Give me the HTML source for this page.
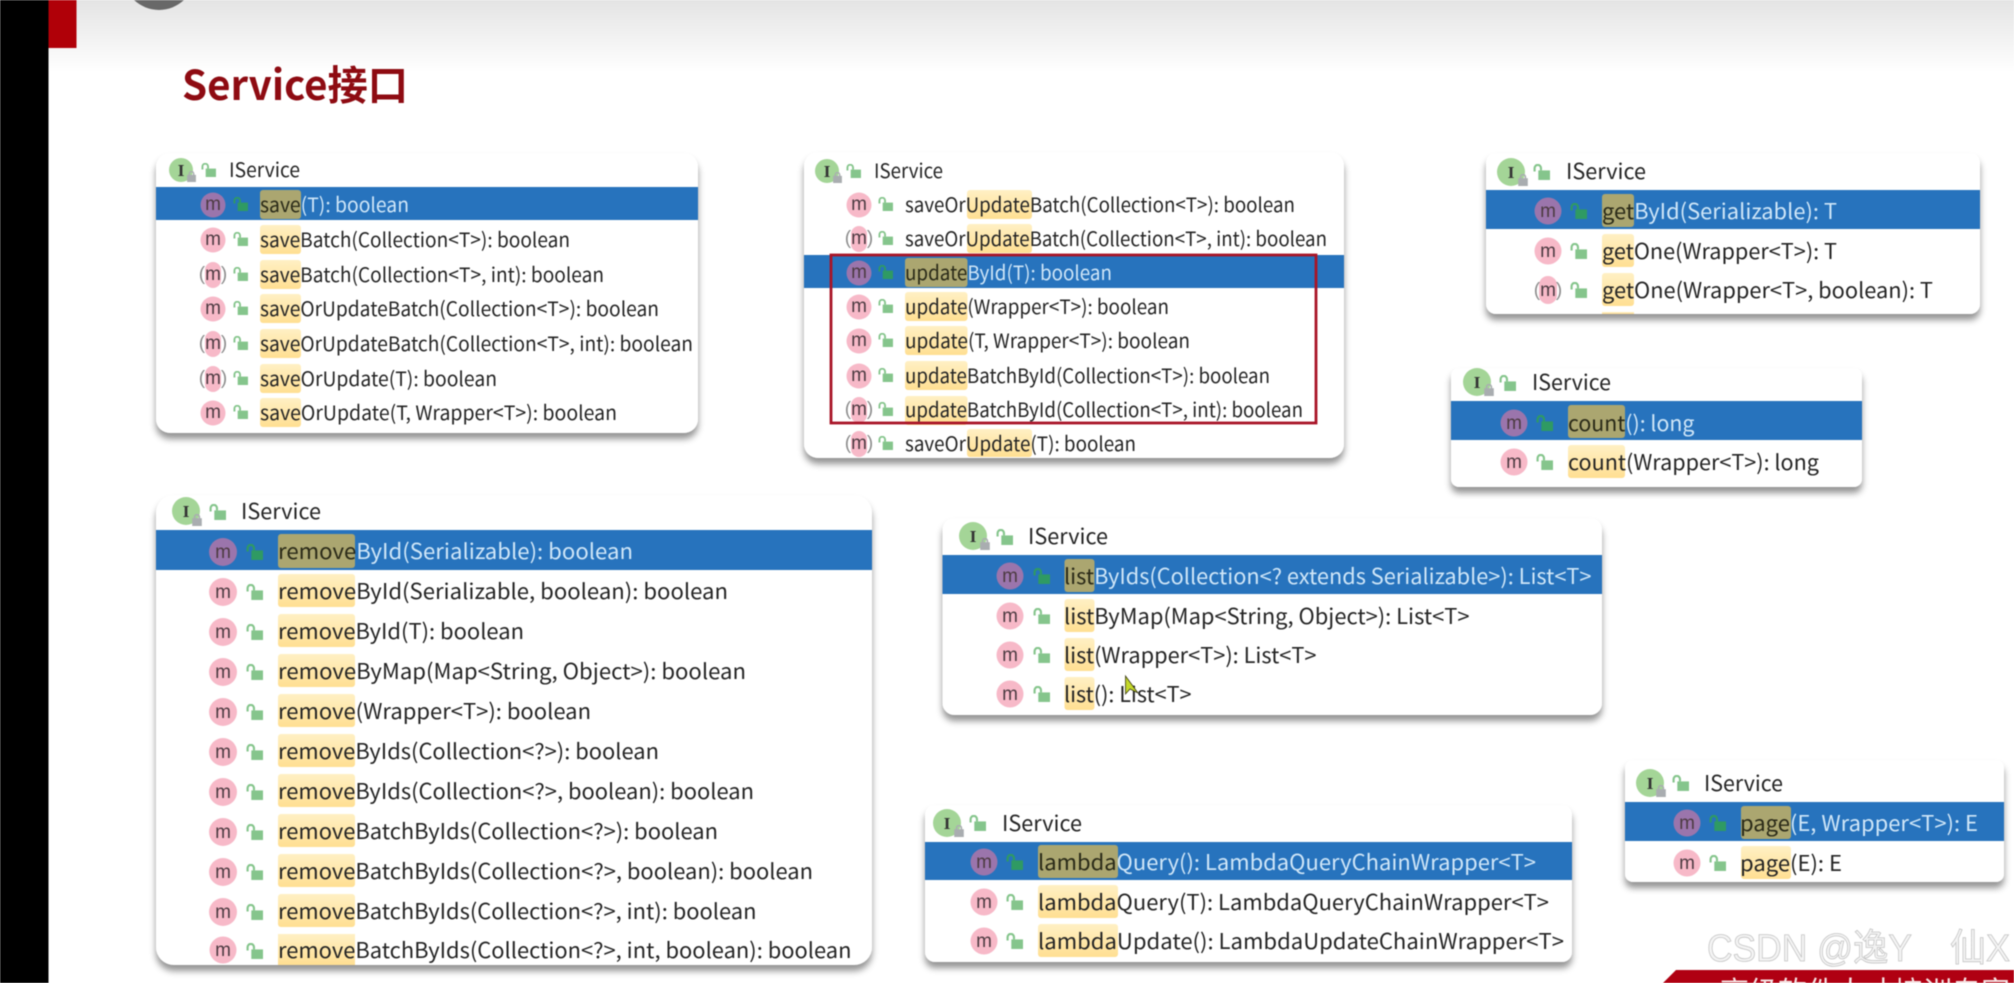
<!DOCTYPE html>
<html><head><meta charset="utf-8"><title>Service接口</title>
<style>
html,body{margin:0;padding:0;background:#fff;width:2014px;height:983px;overflow:hidden}
svg{display:block;filter:blur(.55px)}
text{font-family:"Noto Sans CJK SC","Liberation Sans",sans-serif;fill:#242424}
.a{font-size:20px}.b{font-size:21.5px}
.s{fill:#cfe6f8}
.m{font-family:"Liberation Sans",sans-serif;font-size:19px;text-anchor:middle;fill:#4d3b42}
.i{font-family:"Liberation Serif",serif;font-size:17px;font-weight:bold;text-anchor:middle;fill:#333}
.g{fill:#8c8c8c}
.p{fill:#f7b9c8}.q{fill:#9b75ac}.o{fill:#a4d597}
.w{fill:#2773bd}.h{fill:url(#y)}.j{fill:#aba670}
</style></head><body>
<svg width="2014" height="983" viewBox="0 0 2014 983" xmlns="http://www.w3.org/2000/svg">
<defs>
<linearGradient id="bg" x1="0" y1="0" x2="0" y2="1"><stop offset="0" stop-color="#e4e4e4"/><stop offset="1" stop-color="#fff"/></linearGradient>
<linearGradient id="y" x1="0" y1="0" x2="0" y2="1"><stop offset="0" stop-color="#fff0c4"/><stop offset="1" stop-color="#ffdf92"/></linearGradient>
<filter id="sh" x="-5%" y="-5%" width="110%" height="115%"><feDropShadow dx="0" dy="6" stdDeviation="3.5" flood-color="#000" flood-opacity=".42"/></filter>
<symbol id="k" viewBox="0 0 16 15"><rect x="5" y="6" width="11" height="9" fill="#85c58c"/><path d="M1.5 7V3.8a3 3 0 0 1 6 0V6" fill="none" stroke="#85c58c" stroke-width="2"/></symbol>
<symbol id="d" viewBox="0 0 16 15"><rect x="5" y="6" width="11" height="9" fill="#2f9a63"/><path d="M1.5 7V3.8a3 3 0 0 1 6 0V6" fill="none" stroke="#2f9a63" stroke-width="2"/></symbol>
<symbol id="l" viewBox="0 0 8 10"><rect x="0" y="3.5" width="8" height="6.5" fill="#a9adb0"/><path d="M2 4V2.5a2 2 0 0 1 4 0V4" fill="none" stroke="#a9adb0" stroke-width="1.3"/></symbol>
</defs>

<rect width="2014" height="983" fill="#fff"/>
<rect x="48" y="0" width="1966" height="72" fill="url(#bg)"/>
<circle cx="159" cy="-26" r="36" fill="#686868"/>
<rect x="0" y="0" width="48.5" height="983" fill="#000"/>
<rect x="48.5" y="0" width="28" height="48" fill="#b00008"/>
<text x="182" y="100" font-size="41" font-weight="600" style="fill:#8e0b12" textLength="226" lengthAdjust="spacingAndGlyphs">Service接口</text>

<!-- Panel 1 -->
<rect x="156" y="153" width="542" height="280" rx="14" fill="#fff" filter="url(#sh)"/>
<circle cx="181" cy="170" r="12" class="o"/><text x="181" y="176" class="i">I</text><use href="#l" x="187" y="171" width="9" height="11"/>
<use href="#k" x="201" y="163" width="15" height="14"/><text x="229" y="177" class="a" textLength="71" lengthAdjust="spacingAndGlyphs">IService</text>
<rect x="156" y="187" width="542" height="33" class="w"/>
<circle cx="213" cy="205" r="12.500" class="q"/><text x="213" y="210" class="m">m</text><use href="#d" x="233" y="197" width="15" height="14"/><rect x="260" y="190" width="41" height="29" rx="3" class="j"/>
<text x="260" y="212" class="a s" textLength="149" lengthAdjust="spacingAndGlyphs"><tspan style="fill:#2a2a18">save</tspan>(T): boolean</text>
<circle cx="213" cy="240" r="12.500" class="p"/><text x="213" y="245" class="m">m</text><use href="#k" x="233" y="232" width="15" height="14"/><rect x="260" y="225" width="41" height="29" rx="3" class="h"/>
<text x="260" y="247" class="a" textLength="310" lengthAdjust="spacingAndGlyphs">saveBatch(Collection&lt;T&gt;): boolean</text>
<rect x="205" y="262" width="16" height="26" rx="8" class="p"/><text x="213" y="280" class="m"><tspan class="g">(</tspan>m<tspan class="g">)</tspan></text><use href="#k" x="233" y="267" width="15" height="14"/><rect x="260" y="260" width="41" height="29" rx="3" class="h"/>
<text x="260" y="282" class="a" textLength="344" lengthAdjust="spacingAndGlyphs">saveBatch(Collection&lt;T&gt;, int): boolean</text>
<circle cx="213" cy="309" r="12.500" class="p"/><text x="213" y="314" class="m">m</text><use href="#k" x="233" y="301" width="15" height="14"/><rect x="260" y="294" width="41" height="29" rx="3" class="h"/>
<text x="260" y="316" class="a" textLength="399" lengthAdjust="spacingAndGlyphs">saveOrUpdateBatch(Collection&lt;T&gt;): boolean</text>
<rect x="205" y="331" width="16" height="26" rx="8" class="p"/><text x="213" y="349" class="m"><tspan class="g">(</tspan>m<tspan class="g">)</tspan></text><use href="#k" x="233" y="336" width="15" height="14"/><rect x="260" y="329" width="41" height="29" rx="3" class="h"/>
<text x="260" y="351" class="a" textLength="433" lengthAdjust="spacingAndGlyphs">saveOrUpdateBatch(Collection&lt;T&gt;, int): boolean</text>
<rect x="205" y="366" width="16" height="26" rx="8" class="p"/><text x="213" y="384" class="m"><tspan class="g">(</tspan>m<tspan class="g">)</tspan></text><use href="#k" x="233" y="371" width="15" height="14"/><rect x="260" y="364" width="41" height="29" rx="3" class="h"/>
<text x="260" y="386" class="a" textLength="237" lengthAdjust="spacingAndGlyphs">saveOrUpdate(T): boolean</text>
<circle cx="213" cy="413" r="12.500" class="p"/><text x="213" y="418" class="m">m</text><use href="#k" x="233" y="405" width="15" height="14"/><rect x="260" y="398" width="41" height="29" rx="3" class="h"/>
<text x="260" y="420" class="a" textLength="357" lengthAdjust="spacingAndGlyphs">saveOrUpdate(T, Wrapper&lt;T&gt;): boolean</text>

<!-- Panel 2 -->
<rect x="804" y="152" width="540" height="306" rx="14" fill="#fff" filter="url(#sh)"/>
<circle cx="827" cy="171" r="12" class="o"/><text x="827" y="177" class="i">I</text><use href="#l" x="833" y="172" width="9" height="11"/>
<use href="#k" x="846" y="164" width="15" height="14"/><text x="874" y="178" class="a" textLength="69" lengthAdjust="spacingAndGlyphs">IService</text>
<circle cx="859" cy="205" r="12.500" class="p"/><text x="859" y="210" class="m">m</text><use href="#k" x="878" y="197" width="15" height="14"/><rect x="967" y="190" width="65" height="29" rx="3" class="h"/>
<text x="905" y="212" class="a" textLength="390" lengthAdjust="spacingAndGlyphs">saveOrUpdateBatch(Collection&lt;T&gt;): boolean</text>
<rect x="851" y="226" width="16" height="26" rx="8" class="p"/><text x="859" y="244" class="m"><tspan class="g">(</tspan>m<tspan class="g">)</tspan></text><use href="#k" x="878" y="231" width="15" height="14"/><rect x="967" y="224" width="65" height="29" rx="3" class="h"/>
<text x="905" y="246" class="a" textLength="422" lengthAdjust="spacingAndGlyphs">saveOrUpdateBatch(Collection&lt;T&gt;, int): boolean</text>
<rect x="804" y="255" width="540" height="33" class="w"/>
<circle cx="859" cy="273" r="12.500" class="q"/><text x="859" y="278" class="m">m</text><use href="#d" x="878" y="265" width="15" height="14"/><rect x="905" y="258" width="62.500" height="29" rx="3" class="j"/>
<text x="905" y="280" class="a s" textLength="207" lengthAdjust="spacingAndGlyphs"><tspan style="fill:#2a2a18">update</tspan>ById(T): boolean</text>
<circle cx="859" cy="307" r="12.500" class="p"/><text x="859" y="312" class="m">m</text><use href="#k" x="878" y="299" width="15" height="14"/><rect x="905" y="292" width="62.500" height="29" rx="3" class="h"/>
<text x="905" y="314" class="a" textLength="264" lengthAdjust="spacingAndGlyphs">update(Wrapper&lt;T&gt;): boolean</text>
<circle cx="859" cy="341" r="12.500" class="p"/><text x="859" y="346" class="m">m</text><use href="#k" x="878" y="333" width="15" height="14"/><rect x="905" y="326" width="62.500" height="29" rx="3" class="h"/>
<text x="905" y="348" class="a" textLength="285" lengthAdjust="spacingAndGlyphs">update(T, Wrapper&lt;T&gt;): boolean</text>
<circle cx="859" cy="376" r="12.500" class="p"/><text x="859" y="381" class="m">m</text><use href="#k" x="878" y="368" width="15" height="14"/><rect x="905" y="361" width="62.500" height="29" rx="3" class="h"/>
<text x="905" y="383" class="a" textLength="365" lengthAdjust="spacingAndGlyphs">updateBatchById(Collection&lt;T&gt;): boolean</text>
<rect x="851" y="397" width="16" height="26" rx="8" class="p"/><text x="859" y="415" class="m"><tspan class="g">(</tspan>m<tspan class="g">)</tspan></text><use href="#k" x="878" y="402" width="15" height="14"/><rect x="905" y="396" width="62.500" height="29" rx="3" class="h"/>
<text x="905" y="417" class="a" textLength="398" lengthAdjust="spacingAndGlyphs">updateBatchById(Collection&lt;T&gt;, int): boolean</text>
<rect x="851" y="431" width="16" height="26" rx="8" class="p"/><text x="859" y="449" class="m"><tspan class="g">(</tspan>m<tspan class="g">)</tspan></text><use href="#k" x="878" y="436" width="15" height="14"/><rect x="967" y="429" width="65" height="28" rx="3" class="h"/>
<text x="905" y="451" class="a" textLength="231" lengthAdjust="spacingAndGlyphs">saveOrUpdate(T): boolean</text>
<rect x="831" y="255" width="485" height="168" fill="none" stroke="#a91427" stroke-width="2.800"/>

<!-- Panel 3 -->
<rect x="1486" y="153" width="494" height="161" rx="10" fill="#fff" filter="url(#sh)"/>
<circle cx="1511" cy="172" r="14" class="o"/><text x="1511" y="178" class="i">I</text><use href="#l" x="1518" y="174" width="10" height="12"/>
<use href="#k" x="1533" y="164" width="17" height="16"/><text x="1566" y="179" class="b" textLength="80" lengthAdjust="spacingAndGlyphs">IService</text>
<rect x="1486" y="190" width="494" height="39" class="w"/>
<circle cx="1548" cy="211" r="13.500" class="q"/><text x="1548" y="217" class="m">m</text><use href="#d" x="1570" y="203" width="17" height="16"/><rect x="1602" y="194" width="32" height="33" rx="3" class="j"/>
<text x="1602" y="219" class="b s" textLength="235" lengthAdjust="spacingAndGlyphs"><tspan style="fill:#2a2a18">get</tspan>ById(Serializable): T</text>
<circle cx="1548" cy="251" r="13.500" class="p"/><text x="1548" y="257" class="m">m</text><use href="#k" x="1570" y="243" width="17" height="16"/><rect x="1602" y="234" width="32" height="33" rx="3" class="h"/>
<text x="1602" y="259" class="b" textLength="235" lengthAdjust="spacingAndGlyphs">getOne(Wrapper&lt;T&gt;): T</text>
<rect x="1539" y="276" width="18" height="28" rx="9" class="p"/><text x="1548" y="296" class="m"><tspan class="g">(</tspan>m<tspan class="g">)</tspan></text><use href="#k" x="1570" y="282" width="17" height="16"/><rect x="1602" y="273" width="32" height="33" rx="3" class="h"/>
<text x="1602" y="298" class="b" textLength="331" lengthAdjust="spacingAndGlyphs">getOne(Wrapper&lt;T&gt;, boolean): T</text>
<rect x="1602" y="312" width="32" height="2" class="h"/>

<!-- Panel 4 -->
<rect x="1451" y="368" width="411" height="119" rx="8" fill="#fff" filter="url(#sh)"/>
<circle cx="1477" cy="382" r="14" class="o"/><text x="1477" y="388" class="i">I</text><use href="#l" x="1484" y="384" width="10" height="12"/>
<use href="#k" x="1499" y="375" width="17" height="16"/><text x="1532" y="390" class="b" textLength="79" lengthAdjust="spacingAndGlyphs">IService</text>
<rect x="1451" y="401" width="411" height="39" class="w"/>
<circle cx="1514" cy="423" r="13.500" class="q"/><text x="1514" y="429" class="m">m</text><use href="#d" x="1536" y="415" width="17" height="16"/><rect x="1568" y="405" width="57" height="33" rx="3" class="j"/>
<text x="1568" y="431" class="b s" textLength="126.500" lengthAdjust="spacingAndGlyphs"><tspan style="fill:#2a2a18">count</tspan>(): long</text>
<circle cx="1514" cy="462" r="13.500" class="p"/><text x="1514" y="468" class="m">m</text><use href="#k" x="1536" y="454" width="17" height="16"/><rect x="1568" y="445" width="57" height="33" rx="3" class="h"/>
<text x="1568" y="470" class="b" textLength="251" lengthAdjust="spacingAndGlyphs">count(Wrapper&lt;T&gt;): long</text>

<!-- Panel 5 -->
<rect x="156" y="495" width="716" height="470" rx="18" fill="#fff" filter="url(#sh)"/>
<circle cx="186" cy="511" r="14" class="o"/><text x="186" y="517" class="i">I</text><use href="#l" x="192" y="514" width="10" height="12"/>
<use href="#k" x="209" y="504" width="17" height="16"/><text x="241" y="519" class="b" textLength="80" lengthAdjust="spacingAndGlyphs">IService</text>
<rect x="156" y="530" width="716" height="40" class="w"/>
<circle cx="223" cy="552" r="14" class="q"/><text x="223" y="558" class="m">m</text><use href="#d" x="246" y="544" width="17" height="16"/><rect x="278" y="534" width="77" height="34" rx="3" class="j"/>
<text x="278" y="559" class="b s" textLength="355" lengthAdjust="spacingAndGlyphs"><tspan style="fill:#2a2a18">remove</tspan>ById(Serializable): boolean</text>
<circle cx="223" cy="592" r="14" class="p"/><text x="223" y="598" class="m">m</text><use href="#k" x="246" y="584" width="17" height="16"/><rect x="278" y="574" width="77" height="33" rx="3" class="h"/>
<text x="278" y="599" class="b" textLength="450" lengthAdjust="spacingAndGlyphs">removeById(Serializable, boolean): boolean</text>
<circle cx="223" cy="632" r="14" class="p"/><text x="223" y="638" class="m">m</text><use href="#k" x="246" y="624" width="17" height="16"/><rect x="278" y="614" width="77" height="33" rx="3" class="h"/>
<text x="278" y="639" class="b" textLength="246" lengthAdjust="spacingAndGlyphs">removeById(T): boolean</text>
<circle cx="223" cy="672" r="14" class="p"/><text x="223" y="678" class="m">m</text><use href="#k" x="246" y="664" width="17" height="16"/><rect x="278" y="654" width="77" height="33" rx="3" class="h"/>
<text x="278" y="679" class="b" textLength="468" lengthAdjust="spacingAndGlyphs">removeByMap(Map&lt;String, Object&gt;): boolean</text>
<circle cx="223" cy="712" r="14" class="p"/><text x="223" y="718" class="m">m</text><use href="#k" x="246" y="704" width="17" height="16"/><rect x="278" y="694" width="77" height="33" rx="3" class="h"/>
<text x="278" y="719" class="b" textLength="313" lengthAdjust="spacingAndGlyphs">remove(Wrapper&lt;T&gt;): boolean</text>
<circle cx="223" cy="752" r="14" class="p"/><text x="223" y="758" class="m">m</text><use href="#k" x="246" y="744" width="17" height="16"/><rect x="278" y="734" width="77" height="33" rx="3" class="h"/>
<text x="278" y="759" class="b" textLength="381" lengthAdjust="spacingAndGlyphs">removeByIds(Collection&lt;?&gt;): boolean</text>
<circle cx="223" cy="792" r="14" class="p"/><text x="223" y="798" class="m">m</text><use href="#k" x="246" y="784" width="17" height="16"/><rect x="278" y="774" width="77" height="33" rx="3" class="h"/>
<text x="278" y="799" class="b" textLength="476" lengthAdjust="spacingAndGlyphs">removeByIds(Collection&lt;?&gt;, boolean): boolean</text>
<circle cx="223" cy="832" r="14" class="p"/><text x="223" y="838" class="m">m</text><use href="#k" x="246" y="824" width="17" height="16"/><rect x="278" y="814" width="77" height="33" rx="3" class="h"/>
<text x="278" y="839" class="b" textLength="440" lengthAdjust="spacingAndGlyphs">removeBatchByIds(Collection&lt;?&gt;): boolean</text>
<circle cx="223" cy="872" r="14" class="p"/><text x="223" y="878" class="m">m</text><use href="#k" x="246" y="864" width="17" height="16"/><rect x="278" y="854" width="77" height="33" rx="3" class="h"/>
<text x="278" y="879" class="b" textLength="535" lengthAdjust="spacingAndGlyphs">removeBatchByIds(Collection&lt;?&gt;, boolean): boolean</text>
<circle cx="223" cy="912" r="14" class="p"/><text x="223" y="918" class="m">m</text><use href="#k" x="246" y="904" width="17" height="16"/><rect x="278" y="894" width="77" height="33" rx="3" class="h"/>
<text x="278" y="919" class="b" textLength="478.500" lengthAdjust="spacingAndGlyphs">removeBatchByIds(Collection&lt;?&gt;, int): boolean</text>
<circle cx="223" cy="950" r="13.500" class="p"/><text x="223" y="956" class="m">m</text><use href="#k" x="246" y="943" width="17" height="16"/><rect x="278" y="934" width="77" height="31" class="h"/>
<text x="278" y="958" class="b" textLength="573.500" lengthAdjust="spacingAndGlyphs">removeBatchByIds(Collection&lt;?&gt;, int, boolean): boolean</text>

<!-- Panel 6 -->
<rect x="942.500" y="518" width="659.500" height="197" rx="12" fill="#fff" filter="url(#sh)"/>
<circle cx="973" cy="536" r="14" class="o"/><text x="973" y="542" class="i">I</text><use href="#l" x="980" y="538" width="10" height="12"/>
<use href="#k" x="996" y="529" width="17" height="16"/><text x="1028" y="544" class="b" textLength="80" lengthAdjust="spacingAndGlyphs">IService</text>
<rect x="942.500" y="555" width="659.500" height="39" class="w"/>
<circle cx="1010" cy="576" r="13.500" class="q"/><text x="1010" y="582" class="m">m</text><use href="#d" x="1033" y="568" width="17" height="16"/><rect x="1064.500" y="559" width="30" height="33" rx="3" class="j"/>
<text x="1064" y="584" class="b s" textLength="527.500" lengthAdjust="spacingAndGlyphs"><tspan style="fill:#2a2a18">list</tspan>ByIds(Collection&lt;? extends Serializable&gt;): List&lt;T&gt;</text>
<circle cx="1010" cy="616" r="13.500" class="p"/><text x="1010" y="622" class="m">m</text><use href="#k" x="1033" y="608" width="17" height="16"/><rect x="1064.500" y="599" width="30" height="33" rx="3" class="h"/>
<text x="1064" y="624" class="b" textLength="405.500" lengthAdjust="spacingAndGlyphs">listByMap(Map&lt;String, Object&gt;): List&lt;T&gt;</text>
<circle cx="1010" cy="655" r="13.500" class="p"/><text x="1010" y="661" class="m">m</text><use href="#k" x="1033" y="647" width="17" height="16"/><rect x="1064.500" y="638" width="30" height="33" rx="3" class="h"/>
<text x="1064" y="663" class="b" textLength="252.500" lengthAdjust="spacingAndGlyphs">list(Wrapper&lt;T&gt;): List&lt;T&gt;</text>
<circle cx="1010" cy="694" r="13.500" class="p"/><text x="1010" y="700" class="m">m</text><use href="#k" x="1033" y="686" width="17" height="16"/><rect x="1064.500" y="677" width="30" height="33" rx="3" class="h"/>
<text x="1064" y="702" class="b" textLength="127.500" lengthAdjust="spacingAndGlyphs">list(): List&lt;T&gt;</text>
<path d="M1125.500 676 L1125.500 694 L1130 689 L1138 693 Z" fill="#c4d82a" stroke="#3a3a10" stroke-width=".8"/>

<!-- Panel 7 -->
<rect x="925" y="805" width="647" height="157" rx="10" fill="#fff" filter="url(#sh)"/>
<circle cx="947" cy="823" r="14" class="o"/><text x="947" y="829" class="i">I</text><use href="#l" x="954" y="825" width="10" height="12"/>
<use href="#k" x="969" y="815" width="17" height="16"/><text x="1002" y="831" class="b" textLength="80" lengthAdjust="spacingAndGlyphs">IService</text>
<rect x="925" y="842" width="647" height="38" class="w"/>
<circle cx="984" cy="862" r="13.500" class="q"/><text x="984" y="868" class="m">m</text><use href="#d" x="1006" y="854" width="17" height="16"/><rect x="1038" y="845" width="80" height="33" rx="3" class="j"/>
<text x="1038" y="870" class="b s" textLength="498" lengthAdjust="spacingAndGlyphs"><tspan style="fill:#2a2a18">lambda</tspan>Query(): LambdaQueryChainWrapper&lt;T&gt;</text>
<circle cx="984" cy="902" r="13.500" class="p"/><text x="984" y="908" class="m">m</text><use href="#k" x="1006" y="894" width="17" height="16"/><rect x="1038" y="885" width="80" height="33" rx="3" class="h"/>
<text x="1038" y="910" class="b" textLength="511" lengthAdjust="spacingAndGlyphs">lambdaQuery(T): LambdaQueryChainWrapper&lt;T&gt;</text>
<circle cx="984" cy="941" r="13.500" class="p"/><text x="984" y="947" class="m">m</text><use href="#k" x="1006" y="933" width="17" height="16"/><rect x="1038" y="924" width="80" height="33" rx="3" class="h"/>
<text x="1038" y="949" class="b" textLength="526" lengthAdjust="spacingAndGlyphs">lambdaUpdate(): LambdaUpdateChainWrapper&lt;T&gt;</text>

<!-- Panel 8 -->
<rect x="1625" y="760" width="379" height="122" rx="8" fill="#fff" filter="url(#sh)"/>
<circle cx="1650" cy="783" r="14" class="o"/><text x="1650" y="789" class="i">I</text><use href="#l" x="1656" y="785" width="10" height="12"/>
<use href="#k" x="1672" y="775" width="17" height="16"/><text x="1704" y="791" class="b" textLength="79" lengthAdjust="spacingAndGlyphs">IService</text>
<rect x="1625" y="802" width="379" height="39" class="w"/>
<circle cx="1687" cy="823" r="13.500" class="q"/><text x="1687" y="829" class="m">m</text><use href="#d" x="1709" y="815" width="17" height="16"/><rect x="1741" y="806" width="50" height="33" rx="3" class="j"/>
<text x="1740" y="831" class="b s" textLength="238" lengthAdjust="spacingAndGlyphs"><tspan style="fill:#2a2a18">page</tspan>(E, Wrapper&lt;T&gt;): E</text>
<circle cx="1687" cy="863" r="13.500" class="p"/><text x="1687" y="869" class="m">m</text><use href="#k" x="1709" y="855" width="17" height="16"/><rect x="1741" y="846" width="50" height="33" rx="3" class="h"/>
<text x="1740" y="871" class="b" textLength="102" lengthAdjust="spacingAndGlyphs">page(E): E</text>

<!-- Watermark and banner -->
<polygon points="1663,983 1676,970 2014,970 2014,983" fill="#b00012"/>
<text x="1720" y="1002" font-size="29" style="fill:#f6e4e4">高级软件人才培训专家</text>
<text x="1707" y="961" font-size="38" style="fill:#f4f4f4;stroke:#c4c4c4;stroke-width:.8;font-family:'Liberation Sans','Noto Sans CJK SC',sans-serif" textLength="205" lengthAdjust="spacingAndGlyphs">CSDN @逸Y</text>
<text x="1950" y="961" font-size="38" style="fill:#f4f4f4;stroke:#c4c4c4;stroke-width:.8;font-family:'Liberation Sans','Noto Sans CJK SC',sans-serif" textLength="60" lengthAdjust="spacingAndGlyphs">仙X</text>
</svg>
</body></html>
